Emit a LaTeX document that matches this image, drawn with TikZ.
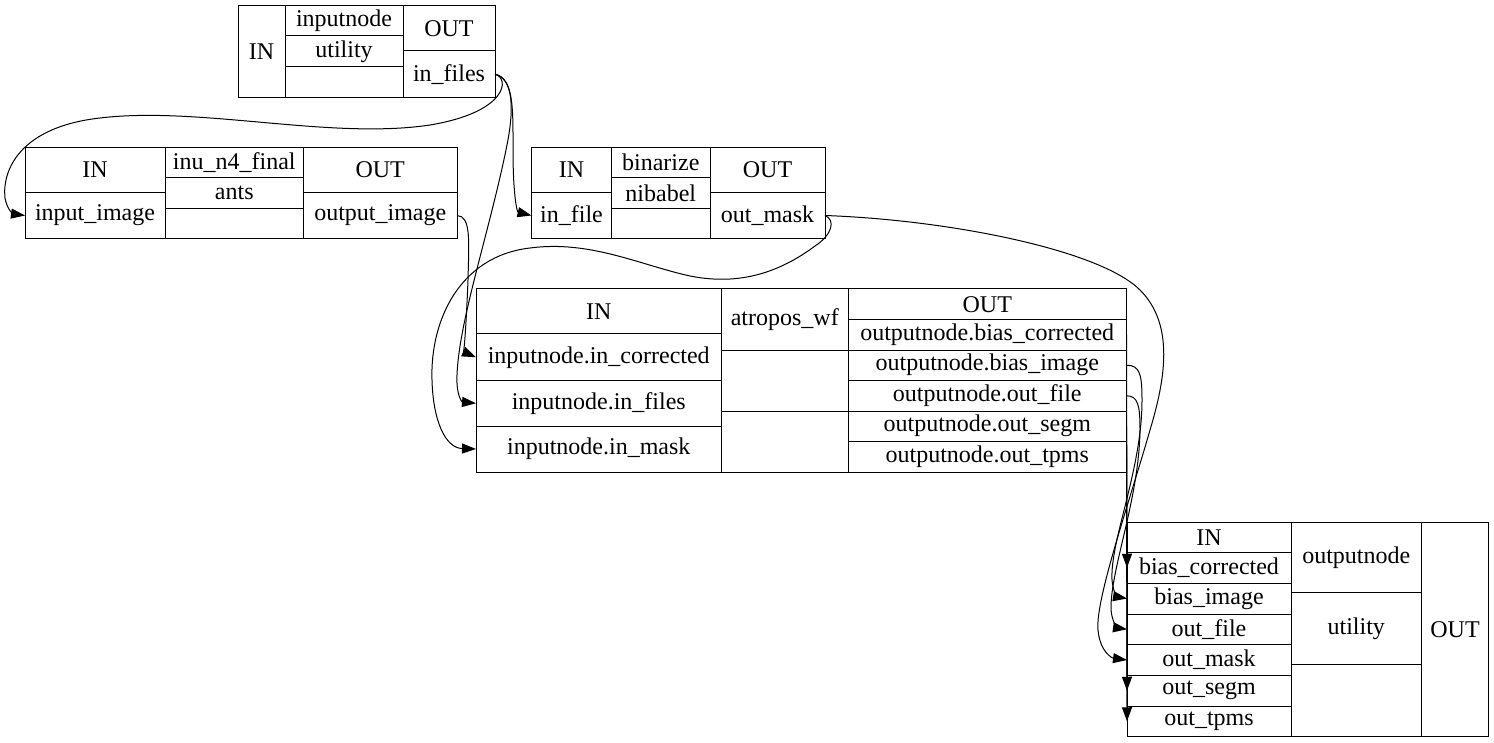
\documentclass[tikz,border=0pt]{standalone}
\usepackage{fontspec}
\setmainfont{Liberation Serif}
\usetikzlibrary{arrows.meta}

% one field of a record: name, x1, y1, x2, y2, text
\newcommand{\recfield}[6]{%
	\node[fld, minimum width={(#4-#2)*1pt}, minimum height={(#5-#3)*1pt}]
		(#1) at ({(#2+#4)/2},{(#3+#5)/2}) {#6};}

\begin{document}
\begin{tikzpicture}[x=1pt,y=-1pt,
	fld/.style={draw, rectangle, line width=1pt, inner sep=0pt, outer sep=0pt,
		font=\fontsize{24}{28}\selectfont},
	link/.style={line width=1pt, -{Triangle[length=14pt,width=10pt]}}]
	\useasboundingbox (0,0) rectangle (1494,743);

	% inputnode
	\recfield{in_in}{238}{6}{285}{97.5}{IN}
	\recfield{in_name}{285}{6}{403}{36}{inputnode}
	\recfield{in_util}{285}{36}{403}{67}{utility}
	\recfield{in_blank}{285}{67}{403}{97.5}{}
	\recfield{in_out}{403}{6}{495}{51}{OUT}
	\recfield{in_files}{403}{51}{495}{97.5}{in\_files}

	% inu_n4_final
	\recfield{inu_in}{25}{147.5}{165}{192.5}{IN}
	\recfield{inu_input}{25}{192.5}{165}{238.5}{input\_image}
	\recfield{inu_name}{165}{147.5}{303.5}{178}{inu\_n4\_final}
	\recfield{inu_type}{165}{178}{303.5}{208.5}{ants}
	\recfield{inu_blank}{165}{208.5}{303.5}{238.5}{}
	\recfield{inu_out}{303.5}{147.5}{457}{192.5}{OUT}
	\recfield{inu_image}{303.5}{192.5}{457}{238.5}{output\_image}

	% binarize
	\recfield{bin_in}{531.5}{147.5}{611.5}{192.5}{IN}
	\recfield{bin_file}{531.5}{192.5}{611.5}{238.5}{in\_file}
	\recfield{bin_name}{611.5}{147.5}{710}{178}{binarize}
	\recfield{bin_type}{611.5}{178}{710}{208.5}{nibabel}
	\recfield{bin_blank}{611.5}{208.5}{710}{238.5}{}
	\recfield{bin_out}{710}{147.5}{825}{192.5}{OUT}
	\recfield{bin_mask}{710}{192.5}{825}{238.5}{out\_mask}

	% atropos_wf
	\recfield{at_in}{476}{289}{721.5}{334}{IN}
	\recfield{at_corr}{476}{334}{721.5}{380.5}{inputnode.in\_corrected}
	\recfield{at_files}{476}{380.5}{721.5}{426}{inputnode.in\_files}
	\recfield{at_mask}{476}{426}{721.5}{472}{inputnode.in\_mask}
	\recfield{at_name}{721.5}{289}{848}{350}{atropos\_wf}
	\recfield{at_blank1}{721.5}{350}{848}{411}{}
	\recfield{at_blank2}{721.5}{411}{848}{472}{}
	\recfield{at_out}{848}{289}{1126.5}{319.5}{OUT}
	\recfield{at_bcorr}{848}{319.5}{1126.5}{350}{outputnode.bias\_corrected}
	\recfield{at_bimg}{848}{350}{1126.5}{380.5}{outputnode.bias\_image}
	\recfield{at_ofile}{848}{380.5}{1126.5}{411}{outputnode.out\_file}
	\recfield{at_segm}{848}{411}{1126.5}{441.5}{outputnode.out\_segm}
	\recfield{at_tpms}{848}{441.5}{1126.5}{472}{outputnode.out\_tpms}

	% outputnode
	\recfield{on_in}{1127}{522.5}{1291}{552.5}{IN}
	\recfield{on_bcorr}{1127}{552.5}{1291}{583}{bias\_corrected}
	\recfield{on_bimg}{1127}{583}{1291}{614}{bias\_image}
	\recfield{on_ofile}{1127}{614}{1291}{644.5}{out\_file}
	\recfield{on_mask}{1127}{644.5}{1291}{675.5}{out\_mask}
	\recfield{on_segm}{1127}{675.5}{1291}{706}{out\_segm}
	\recfield{on_tpms}{1127}{706}{1291}{736.5}{out\_tpms}
	\recfield{on_name}{1291}{522.5}{1421.5}{592.5}{outputnode}
	\recfield{on_util}{1291}{592.5}{1421.5}{664.5}{utility}
	\recfield{on_blank}{1291}{664.5}{1421.5}{736.5}{}
	\recfield{on_out}{1421.5}{522.5}{1488.5}{736.5}{OUT}

	% connections
	\draw[link] (in_files.east) .. controls (510,78) and (508,112) .. (430,125)
		.. controls (330,140) and (200,106) .. (100,118)
		.. controls (20,127) and (2,170) .. (5,198)
		.. controls (7,210) and (14,214) .. (inu_input.west);
	\draw[link] (in_files.east) .. controls (514,78) and (513,110) .. (513,150)
		.. controls (513,195) and (517,212) .. (bin_file.west);
	\draw[link] (in_files.east) .. controls (512,78) and (515,105) .. (507,145)
		.. controls (490,230) and (459,320) .. (457,375)
		.. controls (456,395) and (462,402) .. (at_files.west);
	\draw[link] (inu_image.east) .. controls (471,216) and (469,240) .. (468,280)
		.. controls (466,330) and (464,352) .. (at_corr.west);
	\draw[link] (bin_mask.east) .. controls (836,220) and (832,235) .. (815,246)
		.. controls (780,272) and (740,286) .. (690,276)
		.. controls (640,265) and (590,240) .. (530,248)
		.. controls (460,256) and (430,320) .. (432,380)
		.. controls (433,420) and (445,448) .. (at_mask.west);
	\draw[link] (bin_mask.east) .. controls (950,220) and (1100,250) .. (1140,290)
		.. controls (1175,325) and (1165,380) .. (1150,430)
		.. controls (1130,500) and (1095,600) .. (1098,630)
		.. controls (1100,652) and (1112,658) .. (on_mask.west);
	\draw[link] (at_bcorr.east) -- (on_bcorr.west);
	\draw[link] (at_bimg.east) .. controls (1140,365) and (1142,375) .. (1142,400)
		.. controls (1142,470) and (1110,540) .. (1112,580)
		.. controls (1113,592) and (1118,597) .. (on_bimg.west);
	\draw[link] (at_ofile.east) .. controls (1138,396) and (1140,405) .. (1140,430)
		.. controls (1139,500) and (1110,570) .. (1111,610)
		.. controls (1112,622) and (1118,628) .. (on_ofile.west);
	\draw[link] (at_segm.east) -- (on_segm.west);
	\draw[link] (at_tpms.east) -- (on_tpms.west);
\end{tikzpicture}
\end{document}
